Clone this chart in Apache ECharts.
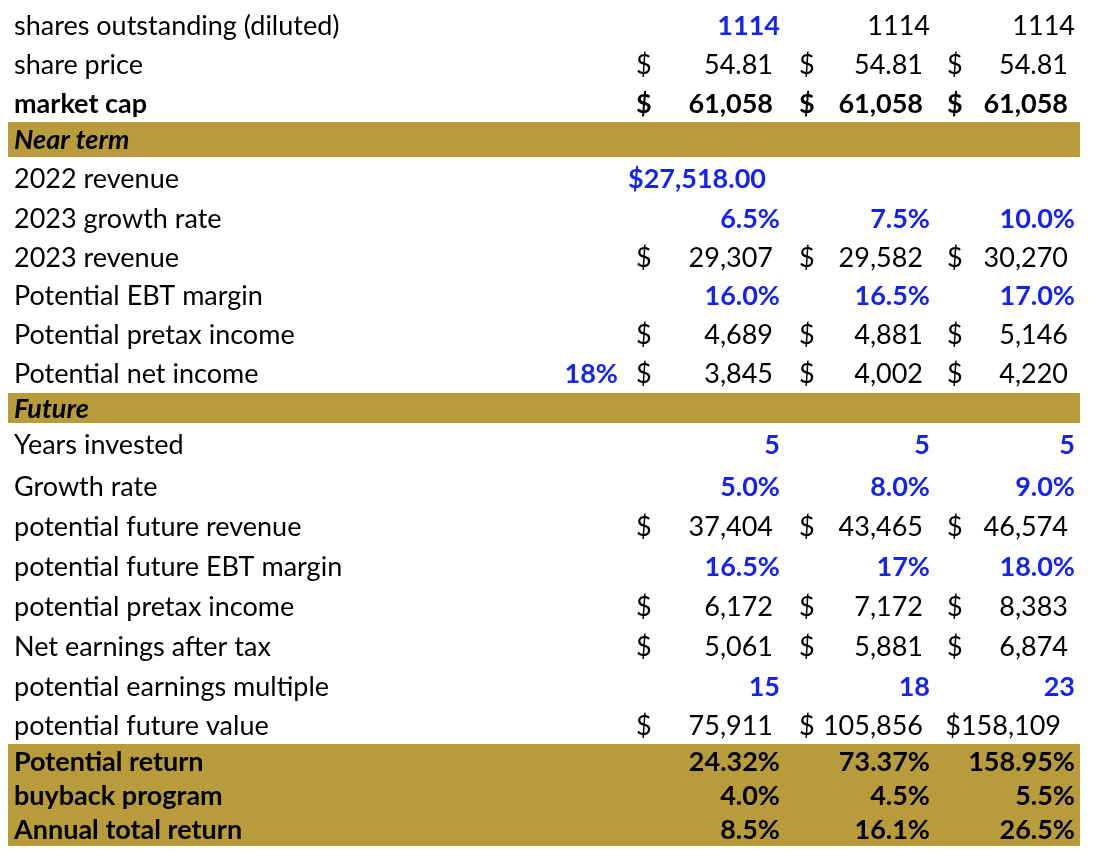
<!DOCTYPE html>
<html>
<head>
    <meta charset="utf-8" />
    <title>Valuation scenarios</title>
    <script src="https://cdn.jsdelivr.net/npm/echarts@6/dist/echarts.min.js"></script>
    <style type="text/css">
        html, body { margin: 0; padding: 0; background: #fff; }
        #main { width: 1100px; height: 860px; }
    </style>
</head>
<body>
    <div id="main"></div>
    <script>
        // row labels (first column of the sheet)
        var rowLabels = [
            'shares outstanding (diluted)', 'share price', 'market cap', 'Near term',
            '2022 revenue', '2023 growth rate', '2023 revenue', 'Potential EBT margin',
            'Potential pretax income', 'Potential net income', 'Future', 'Years invested',
            'Growth rate', 'potential future revenue', 'potential future EBT margin',
            'potential pretax income', 'Net earnings after tax', 'potential earnings multiple',
            'potential future value', 'Potential return', 'buyback program', 'Annual total return'
        ];

        // "$ x" = accounting format ($ at the left of the cell)
        var taxColumn = [null, null, null, null, null, null, null, null, null, '18%', null,
            null, null, null, null, null, null, null, null, null, null, null];
        var lowCase = ['1114', '$ 54.81', '$ 61,058', null, '$27,518.00', '6.5%', '$ 29,307', '16.0%',
            '$ 4,689', '$ 3,845', null, '5', '5.0%', '$ 37,404', '16.5%', '$ 6,172', '$ 5,061',
            '15', '$ 75,911', '24.32%', '4.0%', '8.5%'];
        var midCase = ['1114', '$ 54.81', '$ 61,058', null, null, '7.5%', '$ 29,582', '16.5%',
            '$ 4,881', '$ 4,002', null, '5', '8.0%', '$ 43,465', '17%', '$ 7,172', '$ 5,881',
            '18', '$ 105,856', '73.37%', '4.5%', '16.1%'];
        var highCase = ['1114', '$ 54.81', '$ 61,058', null, null, '10.0%', '$ 30,270', '17.0%',
            '$ 5,146', '$ 4,220', null, '5', '9.0%', '$ 46,574', '18.0%', '$ 8,383', '$ 6,874',
            '23', '$158,109', '158.95%', '5.5%', '26.5%'];

        // input cells shown in blue: column indices per row
        var blueCols = [[1], [], [], [], [1], [1, 2, 3], [], [1, 2, 3], [], [0], [],
            [1, 2, 3], [1, 2, 3], [], [1, 2, 3], [], [], [1, 2, 3], [], [], [], []];

        // row kind: plain / bold / band (section header) / total (shaded bold rows)
        var rowKind = ['plain', 'plain', 'bold', 'band', 'plain', 'plain', 'plain', 'plain',
            'plain', 'plain', 'band', 'plain', 'plain', 'plain', 'plain', 'plain', 'plain',
            'plain', 'plain', 'total', 'total', 'total'];

        // layout
        var rowHeights = [39, 39, 38, 35, 42, 39, 38, 39, 39, 39, 30, 43, 40, 40, 40, 40, 40, 40, 38, 34, 34, 34];
        var tableTop = 6;
        var labelX = 14;
        var colRight = [618, 780, 930, 1075];
        var dollarX = [null, 636, 799, 947];
        var accPad = 7, curPad = 14;
        var bandLeft = 8, bandRight = 1080;
        var blue = '#1424ee';
        var gold = '#b89b3a';
        var fontFamily = 'Lato, "Open Sans", sans-serif';
        var fontSize = 27;

        var rowTops = [];
        rowHeights.reduce(function (acc, h) { rowTops.push(acc); return acc + h; }, tableTop);

        var columns = [taxColumn, lowCase, midCase, highCase];

        function renderRow(params, api) {
            var i = api.value(0);
            var top = rowTops[i];
            var h = rowHeights[i];
            var cy = top + h / 2 + 1;
            var kind = rowKind[i];
            var children = [];

            if (kind === 'band' || kind === 'total') {
                var p0 = api.coord([bandLeft, top]);
                var p1 = api.coord([bandRight, top + h]);
                children.push({
                    type: 'rect',
                    shape: { x: p0[0], y: p0[1], width: p1[0] - p0[0], height: p1[1] - p0[1] },
                    style: { fill: gold }
                });
            }

            var rowBold = kind !== 'plain';
            var lp = api.coord([labelX, cy]);
            children.push({
                type: 'text',
                style: {
                    text: rowLabels[i], x: lp[0], y: lp[1],
                    align: 'left', verticalAlign: 'middle',
                    fill: '#000', fontFamily: fontFamily, fontSize: fontSize,
                    fontWeight: rowBold ? 'bold' : 'normal',
                    fontStyle: kind === 'band' ? 'italic' : 'normal'
                }
            });

            columns.forEach(function (col, c) {
                var v = col[i];
                if (v == null) return;
                var isBlue = blueCols[i].indexOf(c) >= 0;
                var bold = rowBold || isBlue;
                var base = {
                    fill: isBlue ? blue : '#000', fontFamily: fontFamily, fontSize: fontSize,
                    fontWeight: bold ? 'bold' : 'normal', verticalAlign: 'middle'
                };
                var right = colRight[c];
                var txt = v;
                if (v.indexOf('$ ') === 0) {
                    txt = v.slice(2);
                    right -= accPad;
                    var dp = api.coord([dollarX[c], cy]);
                    children.push({ type: 'text', style: Object.assign({ text: '$', x: dp[0], y: dp[1], align: 'left' }, base) });
                } else if (v.charAt(0) === '$') {
                    right -= curPad;
                }
                var vp = api.coord([right, cy]);
                children.push({ type: 'text', style: Object.assign({ text: txt, x: vp[0], y: vp[1], align: 'right' }, base) });
            });

            return { type: 'group', children: children };
        }

        var chart = echarts.init(document.getElementById('main'));
        chart.setOption({
            animation: false,
            grid: { left: 0, right: 0, top: 0, bottom: 0 },
            xAxis: { type: 'value', min: 0, max: 1100, show: false },
            yAxis: { type: 'value', min: 0, max: 860, inverse: true, show: false },
            series: [{
                type: 'custom',
                silent: true,
                renderItem: renderRow,
                data: rowLabels.map(function (l, i) { return [i]; }),
                encode: { x: -1, y: -1 }
            }]
        });
    </script>
</body>
</html>
